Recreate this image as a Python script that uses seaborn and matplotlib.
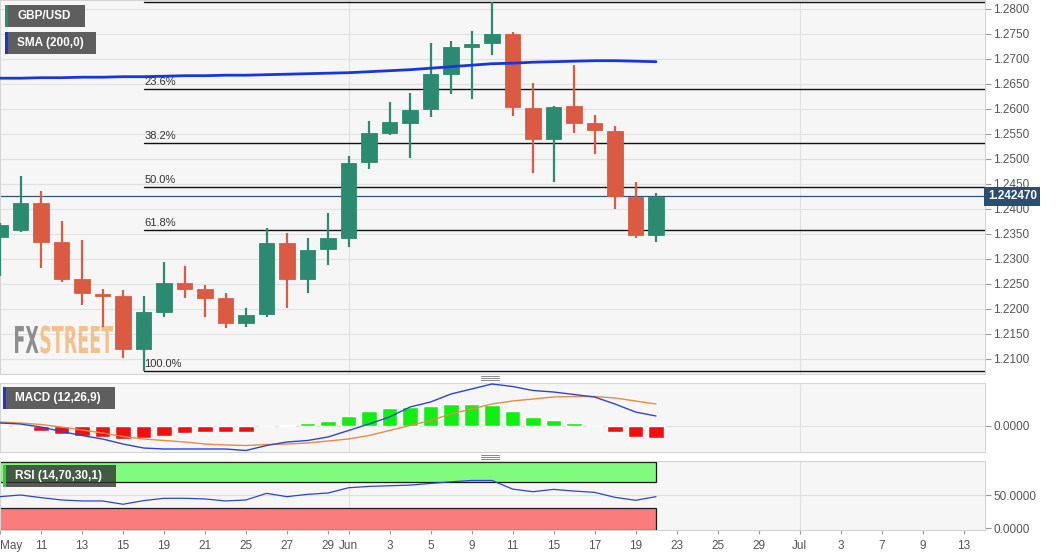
import numpy as np
import pandas as pd
import matplotlib
matplotlib.use('Agg')
import matplotlib.pyplot as plt
import matplotlib.transforms as mtransforms
from matplotlib.patches import Rectangle, PathPatch
from matplotlib.lines import Line2D
from matplotlib.textpath import TextPath
from matplotlib.font_manager import FontProperties
import seaborn as sns

# ---- data (GBP/USD daily) ----
first_day = '2020-05-07'
last_day = '2020-07-13'

opens = [1.2344, 1.2357, 1.2411, 1.2334, 1.2259, 1.2229, 1.2226, 1.2119, 1.2193, 1.2252, 1.2239,
         1.2221, 1.2172, 1.2189, 1.2331, 1.2259, 1.2319, 1.2342, 1.2494, 1.2551, 1.2572, 1.2599,
         1.2669, 1.2724, 1.2731, 1.2749, 1.2602, 1.2539, 1.2605, 1.2571, 1.2555, 1.2424, 1.2347]
highs = [1.2372, 1.2466, 1.2436, 1.2375, 1.2337, 1.2239, 1.2237, 1.2225, 1.2294, 1.2285, 1.2247,
         1.2231, 1.2201, 1.2361, 1.2352, 1.2341, 1.2391, 1.2505, 1.2575, 1.2613, 1.2631, 1.2732,
         1.2735, 1.2755, 1.2813, 1.2754, 1.2652, 1.2605, 1.2687, 1.2587, 1.2565, 1.2453, 1.2432]
lows = [1.2265, 1.2354, 1.2281, 1.2254, 1.2207, 1.2164, 1.2101, 1.2075, 1.2183, 1.2221, 1.2184,
        1.2161, 1.2163, 1.2184, 1.2202, 1.2232, 1.2287, 1.2324, 1.2479, 1.2547, 1.2501, 1.2583,
        1.2629, 1.2619, 1.2707, 1.2586, 1.2472, 1.2454, 1.2552, 1.2509, 1.2399, 1.2342, 1.2334]
closes = [1.2367, 1.2411, 1.2334, 1.2259, 1.2231, 1.2225, 1.2119, 1.2193, 1.2251, 1.2239, 1.2221,
          1.2172, 1.2187, 1.2331, 1.2259, 1.2317, 1.2341, 1.2492, 1.2551, 1.2573, 1.2597, 1.2669,
          1.2723, 1.2729, 1.2749, 1.2603, 1.2539, 1.2604, 1.2572, 1.2557, 1.2425, 1.2347, 1.2424]

sma200 = [1.2661, 1.2661, 1.2662, 1.2662, 1.2663, 1.2663, 1.2664, 1.2664, 1.2665, 1.2666, 1.2666,
          1.2667, 1.2667, 1.2668, 1.2669, 1.2670, 1.2671, 1.2672, 1.2674, 1.2676, 1.2678, 1.2681,
          1.2684, 1.2687, 1.2690, 1.2691, 1.2693, 1.2694, 1.2695, 1.2696, 1.2696, 1.2695, 1.2694]

macd_line = [0.0005, 0.0003, -0.0003, -0.0012, -0.0020, -0.0027, -0.0037, -0.0045, -0.0047, -0.0047,
             -0.0047, -0.0047, -0.0050, -0.0040, -0.0033, -0.0030, -0.0023, -0.0010, 0.0003, 0.0017,
             0.0037, 0.0047, 0.0063, 0.0073, 0.0083, 0.0078, 0.0070, 0.0067, 0.0062, 0.0057, 0.0043,
             0.0027, 0.0019]
macd_signal = [0.0007, 0.0005, 0.0002, -0.0003, -0.0009, -0.0015, -0.0022, -0.0027, -0.0030, -0.0033,
               -0.0037, -0.0039, -0.0040, -0.0038, -0.0037, -0.0035, -0.0031, -0.0027, -0.0020, -0.0010,
               0.0000, 0.0010, 0.0023, 0.0033, 0.0043, 0.0049, 0.0053, 0.0057, 0.0058, 0.0058, 0.0055,
               0.0049, 0.0043]
macd_hist = [-0.0002, -0.0002, -0.0010, -0.0017, -0.0020, -0.0022, -0.0027, -0.0025, -0.0020, -0.0015,
             -0.0013, -0.0013, -0.0012, -0.0001, 0.0001, 0.0005, 0.0010, 0.0020, 0.0029, 0.0035,
             0.0037, 0.0040, 0.0043, 0.0043, 0.0041, 0.0030, 0.0017, 0.0011, 0.0005, 0.0000, -0.0012,
             -0.0023, -0.0025]

rsi = [47.5, 50.0, 46.0, 42.5, 41.0, 41.0, 36.0, 41.5, 45.0, 45.0, 44.0, 41.0, 42.5, 52.5, 47.5, 51.0,
       53.0, 61.0, 63.0, 64.0, 65.0, 67.5, 70.0, 72.0, 72.0, 59.0, 55.0, 58.5, 56.0, 54.0, 46.5, 42.0, 47.5]

last_price = 1.242470
fib_high = 1.2813
fib_low = 1.2075
fib_start_day = '2020-05-18'
fib_levels = [0.0, 23.6, 38.2, 50.0, 61.8, 100.0]

tick_days = ['2020-05-07', '2020-05-11', '2020-05-13', '2020-05-15', '2020-05-19', '2020-05-21',
             '2020-05-25', '2020-05-27', '2020-05-29', '2020-06-01', '2020-06-03', '2020-06-05',
             '2020-06-09', '2020-06-11', '2020-06-15', '2020-06-17', '2020-06-19', '2020-06-23',
             '2020-06-25', '2020-06-29', '2020-07-01', '2020-07-03', '2020-07-07', '2020-07-09',
             '2020-07-13']

# ---- style ----
sns.set_theme(style='white')
plt.rcParams['font.family'] = ['Liberation Sans', 'DejaVu Sans']

UP = '#2b8a70'
DOWN = '#db5a42'
PANEL_BG = '#f6f6f6'
GRID = '#e1e1e1'
TXT = '#555555'
W, H = 1060, 555

calendar = pd.bdate_range(first_day, last_day)
day_pos = {d: i for i, d in enumerate(calendar)}
x = np.arange(len(opens))
df = pd.DataFrame({'x': x, 'open': opens, 'high': highs, 'low': lows, 'close': closes,
                   'sma': sma200, 'macd': macd_line, 'signal': macd_signal,
                   'hist': macd_hist, 'rsi': rsi})

fig = plt.figure(figsize=(W / 100, H / 100), dpi=100, facecolor='white')


def px_axes(left, top, right, bottom):
    return fig.add_axes([left / W, 1 - bottom / H, (right - left) / W, (bottom - top) / H])


ax = px_axes(0, 0, 985, 374)
ax_macd = px_axes(0, 383, 985, 452)
ax_rsi = px_axes(0, 461, 985, 530)

xmax = 985 / 20.5
month_starts = [day_pos[pd.Timestamp(d)] for d in tick_days if pd.Timestamp(d).day == 1]

for a in (ax, ax_macd, ax_rsi):
    a.set_facecolor(PANEL_BG)
    a.set_xlim(0, xmax)
    for s in a.spines.values():
        s.set_color('#d4d4d4')
        s.set_linewidth(0.8)
    a.yaxis.tick_right()
    a.tick_params(axis='y', which='both', right=True, length=4, width=0.8, color='#999999',
                  pad=2, labelsize=8.5, labelcolor=TXT)
    for m in month_starts:
        a.axvline(m, color=GRID, lw=0.8, zorder=0)

# ---- price panel ----
ax.set_ylim(1.20694, 1.28174)
price_ticks = np.arange(1.21, 1.28001, 0.005)
ax.set_yticks(price_ticks)
ax.set_yticklabels([f'{t:.4f}' for t in price_ticks])
for t in price_ticks:
    ax.axhline(t, color=GRID, lw=0.8, zorder=0)
ax.set_xticks([])

# FXSTREET watermark, drawn under the candles
wm_font = FontProperties(family='DejaVu Sans', weight='bold')
wm_x = 15
for word, col, alpha in (('FX', '#7c7c7c', 0.85), ('STREET', '#f2b572', 0.8)):
    tp = TextPath((0, 0), word, size=1, prop=wm_font)
    ext = tp.get_extents()
    tr = mtransforms.Affine2D().translate(-ext.x0, 0).scale(17.5, 37) \
        .translate(wm_x, H - 353)
    ax.add_patch(PathPatch(tp, transform=tr, fc=col, ec='none', alpha=alpha, zorder=1))
    wm_x += ext.width * 17.5 + 2

colors = [UP if c >= o else DOWN for o, c in zip(df['open'], df['close'])]
ax.vlines(df['x'], df['low'], df['high'], colors=colors, lw=1.6, zorder=3)
body_low = np.minimum(df['open'], df['close'])
body_h = np.maximum(np.abs(df['close'] - df['open']), 0.00012)
ax.bar(df['x'], body_h, bottom=body_low, width=0.78, color=colors,
       edgecolor=colors, linewidth=0.6, zorder=4)

sns.lineplot(data=df, x='x', y='sma', ax=ax, color='#1736e0', lw=2, zorder=5)
ax.set_xlabel('')
ax.set_ylabel('')

fib_x0 = day_pos[pd.Timestamp(fib_start_day)]
for lvl in fib_levels:
    price = fib_high - (fib_high - fib_low) * lvl / 100
    ax.plot([fib_x0, xmax], [price, price], color='#111111', lw=1.0, zorder=2)
    if lvl > 0:
        ax.text(fib_x0 + 0.05, price + 0.0004, f'{lvl:.1f}%', fontsize=8, color='#333333',
                ha='left', va='bottom', zorder=6)

ax.axhline(last_price, color='#34557a', lw=0.9, zorder=2)
blend = mtransforms.blended_transform_factory(ax.transAxes, ax.transData)
ax.text(1.003, last_price, f'{last_price:.6f}', transform=blend, ha='left', va='center',
        fontsize=8.5, fontweight='bold', color='white', clip_on=False, zorder=10,
        bbox=dict(boxstyle='square,pad=0.3', fc='#2c4d72', ec='none'))

# ---- MACD panel ----
ax_macd.set_ylim(-0.0053, 0.0085)
ax_macd.set_yticks([0.0])
ax_macd.set_yticklabels(['0.0000'])
ax_macd.axhline(0, color=GRID, lw=0.8, zorder=0)
ax_macd.set_xticks([])
hist_colors = ['#12ee12' if h > 0 else '#f01010' for h in df['hist']]
ax_macd.bar(df['x'], df['hist'], width=0.78, color=hist_colors, zorder=2)
sns.lineplot(data=df, x='x', y='signal', ax=ax_macd, color='#ec8a45', lw=1.0, zorder=3)
sns.lineplot(data=df, x='x', y='macd', ax=ax_macd, color='#2a45d6', lw=1.0, zorder=4)
ax_macd.set_xlabel('')
ax_macd.set_ylabel('')

# ---- RSI panel ----
ax_rsi.set_ylim(-3, 101.5)
ax_rsi.set_yticks([0, 50])
ax_rsi.set_yticklabels(['0.0000', '50.0000'])
ax_rsi.axhline(50, color=GRID, lw=0.8, zorder=0)
ax_rsi.add_patch(Rectangle((-0.5, 70), x[-1] + 0.5, 30, fc='#80fb7e', ec='#1b1b1b', lw=0.9, zorder=1))
ax_rsi.add_patch(Rectangle((-0.5, -3), x[-1] + 0.5, 33, fc='#fb7c7c', ec='#1b1b1b', lw=0.9, zorder=1))
sns.lineplot(data=df, x='x', y='rsi', ax=ax_rsi, color='#2a45d6', lw=0.9, zorder=3)
ax_rsi.set_xlabel('')
ax_rsi.set_ylabel('')

tick_pos = [day_pos[pd.Timestamp(d)] for d in tick_days]
tick_lbl = []
for i, d in enumerate(pd.to_datetime(tick_days)):
    tick_lbl.append(d.strftime('%b') if (i == 0 or d.day == 1) else str(d.day))
ax_rsi.set_xticks(tick_pos)
ax_rsi.set_xticklabels(tick_lbl)
ax_rsi.tick_params(axis='x', bottom=True, length=3, width=0.8, color='#999999', pad=4,
                   labelsize=8.5, labelcolor=TXT)
ax_rsi.get_xticklabels()[0].set_horizontalalignment('left')


# ---- legend tags and decorations (pixel placed) ----
def tag(x0, y0, x1, y1, label, stripe, fc='#5e5e5e', alpha=1.0):
    fig.add_artist(Rectangle((x0 / W, 1 - y1 / H), (x1 - x0) / W, (y1 - y0) / H,
                             transform=fig.transFigure, fc=fc, ec='none', alpha=alpha, zorder=20))
    fig.add_artist(Rectangle((x0 / W, 1 - y1 / H), 3 / W, (y1 - y0) / H,
                             transform=fig.transFigure, fc=stripe, ec='none', zorder=21))
    fig.text((x0 + 12) / W, 1 - (y0 + y1) / 2 / H, label, color='white', fontsize=8.5,
             fontweight='bold', ha='left', va='center', zorder=22)


tag(5, 5, 85, 27, 'GBP/USD', UP)
tag(5, 32, 96, 54, 'SMA (200,0)', '#1736e0')
tag(3, 387, 115, 409, 'MACD (12,26,9)', '#1736e0')
tag(3, 465, 116, 487, 'RSI (14,70,30,1)', '#22dd22', fc='#333333', alpha=0.8)

for yy in (378, 457):
    for k in range(3):
        fig.add_artist(Line2D([481 / W, 499 / W], [1 - (yy - 2 + 2 * k) / H] * 2,
                              transform=fig.transFigure, color='#888888', lw=0.7))

fig.savefig('out.png', dpi=100, facecolor='white')
